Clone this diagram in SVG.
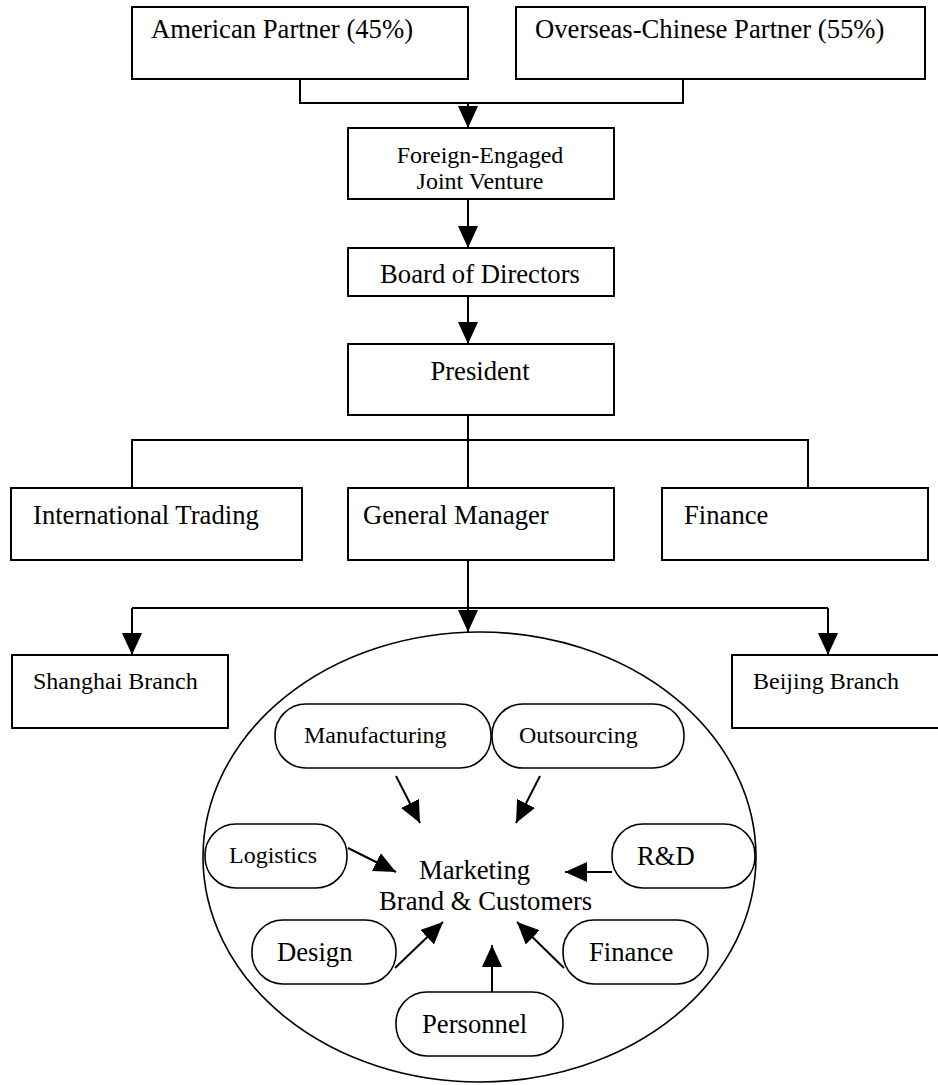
<svg xmlns="http://www.w3.org/2000/svg" width="938" height="1085" viewBox="0 0 938 1085">
<style>
.box{fill:#fff;stroke:#000;stroke-width:2}
.pill{fill:#fff;stroke:#000;stroke-width:1.6}
.ell{fill:#fff;stroke:#000;stroke-width:1.6}
.ln{fill:none;stroke:#000;stroke-width:2}
.t{font-family:"Liberation Serif","Times New Roman",serif;font-size:26.67px;fill:#000}
.s{font-family:"Liberation Serif","Times New Roman",serif;font-size:24px;fill:#000}
</style>
<defs>
<marker id="ah" markerUnits="userSpaceOnUse" markerWidth="22" markerHeight="20" refX="22" refY="10" orient="auto">
<path d="M0,0 L22,10 L0,20 z" fill="#000"/>
</marker>
</defs>
<rect width="938" height="1085" fill="#fff"/>
<g id="nodes-top">
<g id="american"><rect class="box" x="132" y="7" width="336" height="72"/><text class="t" x="151" y="38">American Partner (45%)</text></g>
<g id="overseas"><rect class="box" x="516" y="7" width="409" height="72"/><text class="t" x="535" y="38">Overseas-Chinese Partner (55%)</text></g>
<g id="jv"><rect class="box" x="348" y="128" width="266" height="71"/><text class="s" x="480" y="163" text-anchor="middle">Foreign-Engaged</text><text class="s" x="480" y="189" text-anchor="middle">Joint Venture</text></g>
<g id="board"><rect class="box" x="348" y="248" width="266" height="48"/><text class="t" x="480" y="283" text-anchor="middle">Board of Directors</text></g>
<g id="president"><rect class="box" x="348" y="344" width="266" height="71"/><text class="t" x="480" y="380" text-anchor="middle">President</text></g>
<g id="intl"><rect class="box" x="11" y="488" width="291" height="72"/><text class="t" x="33" y="524">International Trading</text></g>
<g id="gm"><rect class="box" x="348" y="488" width="266" height="72"/><text class="t" x="363" y="524">General Manager</text></g>
<g id="finance-top"><rect class="box" x="662" y="488" width="266" height="72"/><text class="t" x="684" y="524">Finance</text></g>
<g id="shanghai"><rect class="box" x="12" y="655" width="216" height="73"/><text class="s" x="33" y="689">Shanghai Branch</text></g>
<g id="beijing"><rect class="box" x="732" y="655" width="212" height="73"/><text class="s" x="753" y="689">Beijing Branch</text></g>
</g>
<g id="marketing-circle">
<ellipse class="ell" cx="479.5" cy="857" rx="276.5" ry="225"/>
<text class="t" x="419" y="879">Marketing</text>
<text class="t" x="379" y="910">Brand &amp; Customers</text>
</g>
<g id="manufacturing"><rect class="pill" x="275" y="704" width="216" height="64" rx="31" ry="31"/><text class="s" x="304" y="743">Manufacturing</text></g>
<g id="outsourcing"><rect class="pill" x="492" y="704" width="192" height="64" rx="31" ry="31"/><text class="s" x="519" y="743">Outsourcing</text></g>
<g id="logistics"><rect class="pill" x="205" y="824" width="142" height="64" rx="31" ry="31"/><text class="s" x="229" y="863">Logistics</text></g>
<g id="rd"><rect class="pill" x="612" y="824" width="143" height="64" rx="31" ry="31"/><text class="t" x="637" y="865">R&amp;D</text></g>
<g id="design"><rect class="pill" x="252" y="920" width="144" height="64" rx="31" ry="31"/><text class="t" x="277" y="961">Design</text></g>
<g id="finance-inner"><rect class="pill" x="563" y="920" width="145" height="64" rx="31" ry="31"/><text class="t" x="589" y="961">Finance</text></g>
<g id="personnel"><rect class="pill" x="396" y="992" width="167" height="64" rx="31" ry="31"/><text class="t" x="422" y="1033">Personnel</text></g>
<g id="connectors">
<polyline class="ln" points="300,79 300,103 683,103 683,79"/>
<line class="ln" x1="468" y1="103" x2="468" y2="128" marker-end="url(#ah)"/>
<line class="ln" x1="468" y1="199" x2="468" y2="248" marker-end="url(#ah)"/>
<line class="ln" x1="468" y1="296" x2="468" y2="344" marker-end="url(#ah)"/>
<line class="ln" x1="468" y1="415" x2="468" y2="488"/>
<polyline class="ln" points="132,488 132,440 808,440 808,488"/>
<line class="ln" x1="468" y1="560" x2="468" y2="632" marker-end="url(#ah)"/>
<line class="ln" x1="132" y1="608" x2="828" y2="608"/>
<line class="ln" x1="132" y1="608" x2="132" y2="655" marker-end="url(#ah)"/>
<line class="ln" x1="828" y1="608" x2="828" y2="655" marker-end="url(#ah)"/>
<line class="ln" x1="396" y1="776" x2="420" y2="823" marker-end="url(#ah)"/>
<line class="ln" x1="540" y1="776" x2="516" y2="823" marker-end="url(#ah)"/>
<line class="ln" x1="348" y1="848" x2="396" y2="872" marker-end="url(#ah)"/>
<line class="ln" x1="612" y1="872" x2="565" y2="872" marker-end="url(#ah)"/>
<line class="ln" x1="395" y1="968" x2="443" y2="922" marker-end="url(#ah)"/>
<line class="ln" x1="564" y1="968" x2="517" y2="922" marker-end="url(#ah)"/>
<line class="ln" x1="492" y1="992" x2="492" y2="945" marker-end="url(#ah)"/>
</g>
</svg>
